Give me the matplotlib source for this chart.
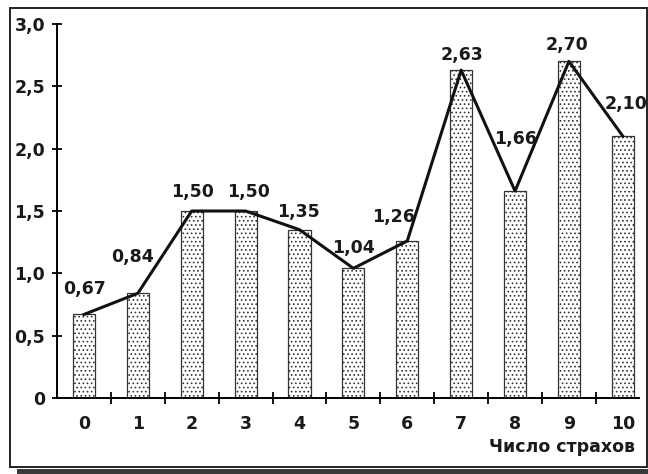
import matplotlib
matplotlib.use("Agg")
import matplotlib.pyplot as plt
from matplotlib.patches import Rectangle

# данные: число страхов и значения
fears = [0, 1, 2, 3, 4, 5, 6, 7, 8, 9, 10]
values = [0.67, 0.84, 1.50, 1.50, 1.35, 1.04, 1.26, 2.63, 1.66, 2.70, 2.10]
y_ticks = [0, 0.5, 1.0, 1.5, 2.0, 2.5, 3.0]
y_tick_labels = ["0", "0,5", "1,0", "1,5", "2,0", "2,5", "3,0"]
x_label = "Число страхов"

# смещения подписей (в пикселях), подобраны по картинке
label_offsets = [(1, 25), (-5, 36), (1, 19), (3, 19), (-1, 18), (0, 20),
                 (-14, 24), (1, 15), (0, 52), (-2, 16), (3, 32)]

plt.rcParams["font.family"] = ["DejaVu Sans"]
plt.rcParams["hatch.linewidth"] = 0.7
plt.rcParams["hatch.color"] = "#444444"

W, H = 648, 474
fig = plt.figure(figsize=(W / 100, H / 100), dpi=100)

# рамка и тень снизу
fig.patches.append(Rectangle((17 / W, 0), 1 - 17 / W, 5 / H, transform=fig.transFigure,
                             facecolor="#3a3a3a", edgecolor="none"))
fig.patches.append(Rectangle((10 / W, (H - 467) / H), 637 / W, 459 / H,
                             transform=fig.transFigure, facecolor="none",
                             edgecolor="#222222", linewidth=1.4))

ax = fig.add_axes([57 / W, (H - 398) / H, 582 / W, 374 / H])
ax.set_facecolor("none")

ax.bar(fears, values, width=0.41, facecolor="white", edgecolor="#333333",
       linewidth=0.9, hatch="....", zorder=2)
ax.plot(fears, values, color="#111111", linewidth=2.2, zorder=3)

txt = dict(fontsize=12.5, fontweight="bold", color="#1a1a1a")

for x, v, (dx, dy) in zip(fears, values, label_offsets):
    ax.annotate(f"{v:.2f}".replace(".", ","), xy=(x, v), xytext=(dx * 0.72, dy * 0.72),
                textcoords="offset points", ha="center", va="center", **txt)

ax.set_xlim(-0.5, 10.3)
ax.set_ylim(0, 3.0)

ax.spines["top"].set_visible(False)
ax.spines["right"].set_visible(False)
ax.spines["left"].set_linewidth(1.4)
ax.spines["bottom"].set_linewidth(1.4)

ax.set_yticks(y_ticks)
ax.set_yticklabels(y_tick_labels, **txt)
ax.tick_params(axis="y", direction="inout", length=7, width=1.3, pad=5)

ax.set_xticks(fears)
ax.set_xticklabels([str(f) for f in fears], **txt)
ax.tick_params(axis="x", which="major", length=0, pad=12)
ax.set_xticks([f + 0.5 for f in fears[:-1]], minor=True)
ax.tick_params(axis="x", which="minor", direction="inout", length=8, width=1.3)

fig.text(635 / W, (H - 447) / H, x_label, ha="right", va="center", **txt)

fig.savefig("out.png", dpi=100)
